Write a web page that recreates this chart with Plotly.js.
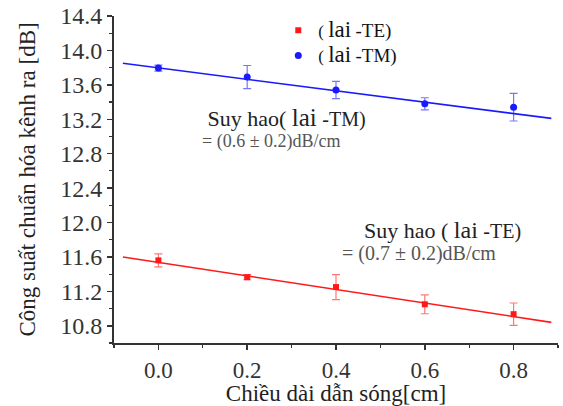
<!DOCTYPE html>
<html>
<head>
<meta charset="utf-8">
<script src="https://cdn.plot.ly/plotly-3.0.1.min.js"></script>
<style>html,body{margin:0;padding:0;background:#fff;}#chart{width:563px;height:406px;}</style>
</head>
<body>
<div id="chart"></div>
<script>
// Data
const lengthCm = [0.0, 0.2, 0.4, 0.6, 0.8];
const teValues = [11.56, 11.365, 11.25, 11.05, 10.935];
const teErrors = [0.075, 0.03, 0.145, 0.11, 0.13];
const tmValues = [13.795, 13.69, 13.54, 13.38, 13.34];
const tmErrors = [0.035, 0.135, 0.1, 0.07, 0.16];
const fitX = [-0.08, 0.885];
const teFit = [11.60, 10.84];
const tmFit = [13.85, 13.21];
const teLabel = "( <span style='font-size:23px'>lai</span> <span style='font-size:19px'>-TE)</span>";
const tmLabel = "( <span style='font-size:23px'>lai</span> <span style='font-size:19px'>-TM)</span>";

const RED = '#ff1a1a', BLUE = '#1a1aff';
const serif = 'Liberation Serif, Times New Roman, serif';

const tmNote = "<span style='font-size:22px;fill:#222'>&nbsp;Suy hao( <span style='font-size:25px'>lai</span> <span style='font-size:20px'>-TM)</span></span>" +
               "<br><span style='font-size:18px;fill:#555'>= (0.6 ± 0.2)dB/cm</span>";
const teNote = "<span style='font-size:22px;fill:#222'>&nbsp;&nbsp;&nbsp;&nbsp;Suy hao ( <span style='font-size:24px'>lai</span> <span style='font-size:20px'>-TE)</span></span>" +
               "<br><span style='font-size:20px;fill:#555'>= (0.7 ± 0.2)dB/cm</span>";

const traces = [
  {x: lengthCm, y: teValues, type: 'scatter', mode: 'markers', name: teLabel,
   marker: {symbol: 'square', size: 6, color: RED},
   error_y: {type: 'data', array: teErrors, visible: true, color: 'rgba(255,60,60,0.7)', thickness: 1.2, width: 4}},
  {x: lengthCm, y: tmValues, type: 'scatter', mode: 'markers', name: tmLabel,
   marker: {symbol: 'circle', size: 7, color: BLUE},
   error_y: {type: 'data', array: tmErrors, visible: true, color: 'rgba(60,60,255,0.7)', thickness: 1.2, width: 4}},
  {x: fitX, y: teFit, type: 'scatter', mode: 'lines', showlegend: false,
   line: {color: RED, width: 1.6}, hoverinfo: 'skip'},
  {x: fitX, y: tmFit, type: 'scatter', mode: 'lines', showlegend: false,
   line: {color: BLUE, width: 1.6}, hoverinfo: 'skip'}
];

const layout = {
  width: 563, height: 406,
  margin: {l: 114, r: 5, t: 16, b: 63},
  paper_bgcolor: '#fff', plot_bgcolor: '#fff',
  font: {family: serif, color: '#222', size: 20},
  showlegend: true,
  legend: {x: 0.37, y: 1.01, xanchor: 'left', yanchor: 'top', bgcolor: 'rgba(0,0,0,0)',
           font: {family: serif, size: 17, color: '#111'}, itemwidth: 30, tracegroupgap: 0},
  xaxis: {
    range: [-0.1, 0.9], tickvals: [0, 0.2, 0.4, 0.6, 0.8], ticktext: ['0.0', '0.2', '0.4', '0.6', '0.8'],
    showgrid: false, zeroline: false, showline: true, linecolor: '#333', linewidth: 2,
    ticks: 'outside', ticklen: 5, tickwidth: 1.5, tickcolor: '#333',
    minor: {dtick: 0.1, tick0: 0, ticks: 'outside', ticklen: 3, tickcolor: '#333', tickwidth: 1.2},
    tickfont: {family: serif, size: 23, color: '#333'},
    title: {text: 'Chiều dài dẫn sóng[cm]', font: {family: serif, size: 23, color: '#222'}, standoff: 0}
  },
  yaxis: {
    range: [10.6, 14.4], tickvals: [10.8, 11.2, 11.6, 12.0, 12.4, 12.8, 13.2, 13.6, 14.0, 14.4],
    ticktext: ['10.8', '11.2', '11.6', '12.0', '12.4', '12.8', '13.2', '13.6', '14.0', '14.4'],
    showgrid: false, zeroline: false, showline: true, linecolor: '#333', linewidth: 2,
    ticks: 'outside', ticklen: 5, tickwidth: 1.5, tickcolor: '#333',
    minor: {dtick: 0.2, tick0: 10.6, ticks: 'outside', ticklen: 3, tickcolor: '#333', tickwidth: 1.2},
    tickfont: {family: serif, size: 24, color: '#333'},
    title: {text: 'Công suất chuẩn hóa kênh ra [dB]', font: {family: serif, size: 23, color: '#222'}, standoff: 18}
  },
  annotations: [
    {x: 0.093, y: 13.104, xref: 'x', yref: 'y', xanchor: 'left', yanchor: 'middle', align: 'left', showarrow: false,
     text: tmNote, font: {family: serif, size: 16, color: '#222'}},
    {x: 0.408, y: 11.785, xref: 'x', yref: 'y', xanchor: 'left', yanchor: 'middle', align: 'left', showarrow: false,
     text: teNote, font: {family: serif, size: 17, color: '#222'}}
  ]
};

Plotly.newPlot('chart', traces, layout, {staticPlot: true, displayModeBar: false});
</script>
</body>
</html>
